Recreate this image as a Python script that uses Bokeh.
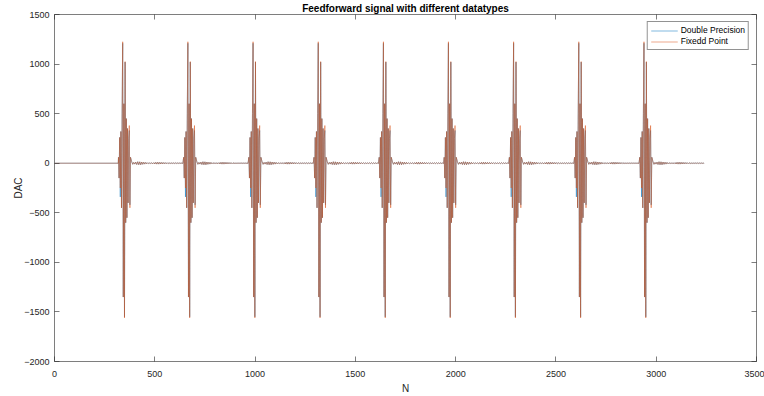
import numpy as np
from bokeh.plotting import figure
from bokeh.models import LinearAxis, FixedTicker, Range1d, Legend, LegendItem
from bokeh.embed import file_html
from bokeh.resources import INLINE

# ---- data ----
x_ticks = [0, 500, 1000, 1500, 2000, 2500, 3000, 3500]
y_ticks = [-2000, -1500, -1000, -500, 0, 500, 1000, 1500]

# sample index of each burst's main positive peak
burst_centers = [340, 665, 990, 1315, 1640, 1964, 2289, 2614, 2939]

# burst samples at offsets -21 .. +39 (every 3 samples) from the peak
pulse_offset_first = -21
pulse_step = 3
pulse_fixed = [
    60, -150, 260, -250, 320, -450, 500,
    1225, -1350, 600, -1560, 1025, -600, 450,
    -550, 350, -400, 250, 380, -450, 60,
]
pulse_double = [
    60, -150, 260, -340, 320, -450, 500,
    1210, -1350, 600, -1550, 1020, -600, 450,
    -550, 350, -400, 250, 330, -420, 60,
]
# residual ringing after each burst, offsets +45 .. +300 every 5 samples
ring_offset_first = 45
ring_step = 5
ring_values = [
    14, -11, 8, -9, 11, -13, 15, -15, 14, -15,
    12, -11, 10, -9, 8, -6, 5, -4, 3, -3,
    4, -5, 6, -8, 9, -9, 10, -9, 9, -8,
    8, -7, 7, -6, 6, -5, 5, -4, 3, -3,
    3, -3, 4, -4, 5, -4, 4, -3, 3, -2,
    2, -2,
]


def build(pulse):
    xs = [1, burst_centers[0] + pulse_offset_first - 1]
    ys = [0, 0]
    for c in burst_centers:
        for i, v in enumerate(pulse):
            xs.append(c + pulse_offset_first + pulse_step * i)
            ys.append(v)
        for i, v in enumerate(ring_values):
            xs.append(c + ring_offset_first + ring_step * i)
            ys.append(v)
    return xs, ys


xd, yd = build(pulse_double)
xf, yf = build(pulse_fixed)

AX = "#262626"
FONT = "Liberation Sans"

p = figure(width=764, height=396, output_backend="svg", toolbar_location=None,
           x_range=Range1d(0, 3500), y_range=Range1d(-2000, 1500),
           min_border_left=54, min_border_right=8, min_border_top=14,
           min_border_bottom=34, outline_line_color=None,
           background_fill_color="white", border_fill_color="white")
p.xgrid.visible = False
p.ygrid.visible = False

r_d = p.line(xd, yd, line_color="#0072BD", line_width=0.5)
r_f = p.line(xf, yf, line_color="#D95319", line_width=0.5)


def style(ax, ticks, labels=True):
    ax.ticker = FixedTicker(ticks=ticks)
    ax.major_tick_in = 5
    ax.major_tick_out = 0
    ax.minor_tick_in = 0
    ax.minor_tick_out = 0
    ax.axis_line_color = AX
    ax.axis_line_width = 0.6
    ax.major_tick_line_color = AX
    ax.major_tick_line_width = 0.6
    ax.major_label_text_font = FONT
    ax.major_label_text_font_size = "9px"
    ax.major_label_text_color = AX
    if not labels:
        ax.major_label_overrides = {t: "" for t in ticks}
        ax.major_label_standoff = 0


xa = p.xaxis[0]
ya = p.yaxis[0]
style(xa, x_ticks)
style(ya, y_ticks)
xa.major_label_standoff = 9
ya.major_label_standoff = 5
xa.axis_label = "N"
ya.axis_label = "DAC"
for a in (xa, ya):
    a.axis_label_text_font = FONT
    a.axis_label_text_font_size = "10px"
    a.axis_label_text_font_style = "normal"
    a.axis_label_text_color = AX
xa.axis_label_standoff = 3
ya.axis_label_standoff = -3

top = LinearAxis()
style(top, x_ticks, labels=False)
p.add_layout(top, "above")
right = LinearAxis()
style(right, y_ticks, labels=False)
p.add_layout(right, "right")

p.title.text = "Feedforward signal with different datatypes"
p.title.text_font = FONT
p.title.text_font_size = "10px"
p.title.text_font_style = "bold"
p.title.text_color = "#000000"
p.title.align = "center"
p.title.standoff = 1
p.title.offset = 0

legend = Legend(items=[LegendItem(label="Double Precision", renderers=[r_d]),
                       LegendItem(label="Fixedd Point", renderers=[r_f])],
                location="top_right")
legend.label_text_font = FONT
legend.label_text_font_size = "8.5px"
legend.label_text_color = "#000000"
legend.glyph_width = 27
legend.glyph_height = 9
legend.label_height = 9
legend.label_standoff = 3
legend.spacing = 1
legend.padding = 3
legend.margin = 7
legend.border_line_color = AX
legend.border_line_width = 0.6
legend.background_fill_color = "white"
legend.background_fill_alpha = 1
p.add_layout(legend)

open("out.html", "w").write(file_html(p, INLINE))
